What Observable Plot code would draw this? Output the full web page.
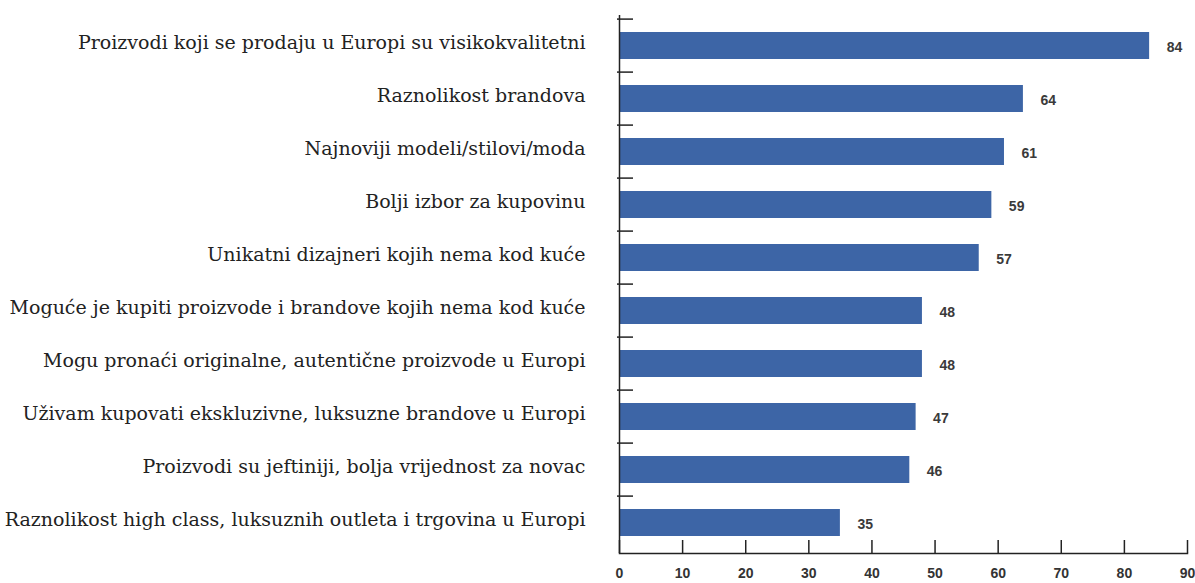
<!DOCTYPE html>
<html>
<head>
<meta charset="utf-8">
<script src="https://cdn.jsdelivr.net/npm/d3@7"></script>
<script src="https://cdn.jsdelivr.net/npm/@observablehq/plot@0.6"></script>
<style>
  html, body { margin: 0; padding: 0; background: #fff; }
</style>
</head>
<body>
<div id="chart"></div>
<script>
const categories = [
  "Proizvodi koji se prodaju u Europi su visikokvalitetni",
  "Raznolikost brandova",
  "Najnoviji modeli/stilovi/moda",
  "Bolji izbor za kupovinu",
  "Unikatni dizajneri kojih nema kod kuće",
  "Moguće je kupiti proizvode i brandove kojih nema kod kuće",
  "Mogu pronaći originalne, autentične proizvode u Europi",
  "Uživam kupovati ekskluzivne, luksuzne brandove u Europi",
  "Proizvodi su jeftiniji, bolja vrijednost za novac",
  "Raznolikost high class, luksuznih outleta i trgovina u Europi"
];
const values = [84, 64, 61, 59, 57, 48, 48, 47, 46, 35];
const xTicks = [0, 10, 20, 30, 40, 50, 60, 70, 80, 90];

const data = categories.map((c, i) => ({category: c, value: values[i]}));

const width = 1195, height = 583;
const marginTop = 15, marginBottom = 30, marginLeft = 619, marginRight = 8;
const step = (height - marginTop - marginBottom) / categories.length;

const chart = Plot.plot({
  width, height, marginTop, marginBottom, marginLeft, marginRight,
  x: {domain: [0, 90], ticks: xTicks, label: null},
  y: {domain: categories, paddingInner: 0.5, paddingOuter: 0.25, label: null},
  marks: [
    Plot.barX(data, {x: "value", y: "category", fill: "#3d65a6"}),
    Plot.text(data, {
      x: "value", y: "category", text: d => String(d.value),
      dx: 17, dy: 2, textAnchor: "start",
      fontFamily: "Liberation Sans, Arial, sans-serif", fontWeight: "bold",
      fontSize: 14, fill: "#3a3a3a"
    }),
    Plot.ruleX([0], {stroke: "#222", strokeWidth: 1.5}),
    Plot.frame({anchor: "bottom", stroke: "#222", strokeWidth: 1.5}),
    Plot.axisX({
      anchor: "bottom", ticks: xTicks, tickSize: -13, tickPadding: 28, label: null,
      stroke: "#222", strokeWidth: 1.5,
      fontFamily: "Liberation Sans, Arial, sans-serif", fontWeight: "bold",
      fontSize: 14, fill: "#333"
    }),
    Plot.axisY({
      anchor: "left", tickSize: -16, dx: -2, dy: -step / 2, label: null,
      stroke: "#222", strokeWidth: 1.5, tickFormat: () => ""
    }),
    Plot.axisY({
      anchor: "left", tickSize: 0, tickPadding: 34, dy: -3, label: null,
      fontFamily: "DejaVu Serif, serif", fontSize: 19, fill: "#222"
    })
  ]
});
document.getElementById("chart").appendChild(chart);
</script>
</body>
</html>
